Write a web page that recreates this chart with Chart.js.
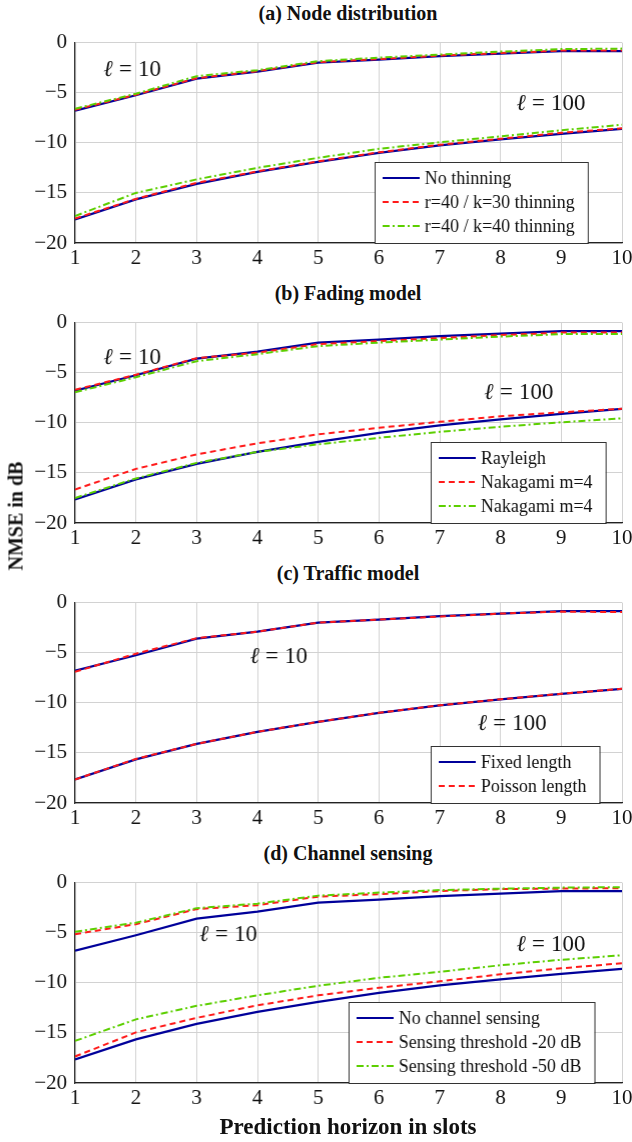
<!DOCTYPE html>
<html lang="en">
<head>
<meta charset="UTF-8">
<title>NMSE vs prediction horizon</title>
<script src="https://cdn.jsdelivr.net/npm/chart.js"></script>
<style>
    body { margin: 0; background: #fff; overflow: hidden; }
    #fig { position: relative; width: 632px; height: 1142px; overflow: hidden; font-family: "Liberation Serif", serif; color: #111; }
    .panel { position: absolute; left: 0; width: 634.5px; height: 256px; }
    .ttl { position: absolute; left: 75px; width: 546px; text-align: center; font-weight: bold; font-size: 20px; line-height: 22px; }
    #xlab { position: absolute; left: 75px; width: 546px; top: 1114px; text-align: center; font-weight: bold; font-size: 23px; }
    #ylab { position: absolute; left: 16px; top: 516px; transform: translate(-50%, -50%) rotate(-90deg); white-space: nowrap; font-weight: bold; font-size: 20px; }
</style>
</head>
<body>
<div id="fig">
    <div class="ttl" style="top:2px">(a) Node distribution</div>
    <div class="ttl" style="top:282px">(b) Fading model</div>
    <div class="ttl" style="top:562px">(c) Traffic model</div>
    <div class="ttl" style="top:842px">(d) Channel sensing</div>
    <div class="panel" style="top:22px"><canvas id="pa"></canvas></div>
    <div class="panel" style="top:302px"><canvas id="pb"></canvas></div>
    <div class="panel" style="top:582px"><canvas id="pc"></canvas></div>
    <div class="panel" style="top:862px"><canvas id="pd"></canvas></div>
    <div id="xlab">Prediction horizon in slots</div>
    <div id="ylab">NMSE in dB</div>
</div>

<script>
    // x axis: prediction horizon (slots)
    const horizon = [1, 2, 3, 4, 5, 6, 7, 8, 9, 10];

    // baseline (no thinning / Rayleigh / fixed length / no sensing), l=10 and l=100
    const base10 = [-6.8, -5.25, -3.6, -2.9, -2.0, -1.7, -1.35, -1.1, -0.85, -0.85];
    const base100 = [-17.65, -15.65, -14.1, -12.9, -11.9, -11.0, -10.25, -9.65, -9.1, -8.6];

    // (a) node distribution
    const thin30_10 = [-6.7, -5.2, -3.55, -2.85, -1.95, -1.65, -1.3, -1.05, -0.8, -0.8];
    const thin30_100 = [-17.55, -15.6, -14.0, -12.85, -11.85, -10.95, -10.2, -9.6, -9.0, -8.55];
    const thin40_10 = [-6.6, -5.1, -3.35, -2.75, -1.85, -1.5, -1.2, -0.9, -0.65, -0.6];
    const thin40_100 = [-17.3, -15.0, -13.65, -12.5, -11.5, -10.6, -9.95, -9.35, -8.75, -8.2];

    // (b) fading model
    const nakaA_10 = [-6.7, -5.2, -3.55, -3.0, -2.15, -1.85, -1.55, -1.25, -1.0, -1.0];
    const nakaA_100 = [-16.65, -14.6, -13.15, -12.05, -11.15, -10.5, -9.9, -9.35, -8.95, -8.6];
    const nakaB_10 = [-6.95, -5.45, -3.85, -3.15, -2.35, -2.0, -1.7, -1.4, -1.15, -1.15];
    const nakaB_100 = [-17.5, -15.55, -14.0, -12.9, -12.15, -11.5, -10.9, -10.4, -9.95, -9.55];

    // (c) traffic model
    const poisson10 = [-6.9, -5.1, -3.55, -2.9, -2.0, -1.7, -1.4, -1.1, -0.9, -0.95];
    const poisson100 = [-17.65, -15.6, -14.1, -12.9, -11.9, -11.0, -10.25, -9.65, -9.1, -8.6];

    // (d) channel sensing
    const sense20_10 = [-5.15, -4.15, -2.65, -2.25, -1.4, -1.15, -0.85, -0.65, -0.6, -0.55];
    const sense20_100 = [-17.35, -14.95, -13.5, -12.25, -11.25, -10.5, -9.85, -9.15, -8.55, -8.05];
    const sense50_10 = [-4.9, -4.0, -2.55, -2.1, -1.3, -1.0, -0.75, -0.6, -0.5, -0.45];
    const sense50_100 = [-15.8, -13.65, -12.3, -11.25, -10.3, -9.5, -8.9, -8.25, -7.7, -7.25];

    const BLUE = '#00009a', RED = '#ff1a1a', GREEN = '#5ccf00';
    const SERIF = '"Liberation Serif", serif';

    const styles = {
        solid: { color: BLUE, dash: [], width: 2.2, order: 3 },
        dashed: { color: RED, dash: [6, 4], width: 2, order: 2 },
        dashdot: { color: GREEN, dash: [7, 3, 2, 3], width: 2, order: 1 }
    };

    function pts(arr) {
        return arr.map((v, i) => ({ x: horizon[i], y: v }));
    }

    function series(name, kind, v10, v100) {
        const s = styles[kind];
        const mk = (arr, lbl) => ({
            data: pts(arr),
            legendText: lbl,
            borderColor: s.color,
            borderDash: s.dash,
            borderWidth: s.width,
            order: s.order,
            pointRadius: 0,
            tension: 0,
            fill: false
        });
        return [mk(v10, name), mk(v100, null)];
    }

    // draws the boxed legend and the l = 10 / l = 100 notes
    const panelDecor = {
        id: 'panelDecor',
        afterDraw(chart, args, opts) {
            const ctx = chart.ctx;
            const xs = chart.scales.x, ys = chart.scales.y;
            ctx.save();
            ctx.fillStyle = '#111';
            ctx.textBaseline = 'middle';
            ctx.textAlign = 'left';
            (opts.notes || []).forEach(n => {
                const px = xs.getPixelForValue(n.x), py = ys.getPixelForValue(n.y);
                ctx.font = 'italic 23px ' + SERIF;
                const w1 = ctx.measureText('ℓ').width;
                ctx.font = '23px ' + SERIF;
                const we = ctx.measureText('=').width;
                const wn = ctx.measureText(n.l).width;
                const gap = 6;
                let x = px - (w1 + gap + we + gap + wn) / 2;
                ctx.font = 'italic 23px ' + SERIF;
                ctx.fillText('ℓ', x, py);
                x += w1 + gap;
                ctx.font = '23px ' + SERIF;
                ctx.fillText('=', x, py);
                x += we + gap;
                ctx.fillText(n.l, x, py);
            });

            const items = chart.data.datasets.filter(d => d.legendText);
            const lg = opts.legend;
            ctx.font = '18px ' + SERIF;
            let tw = 0;
            items.forEach(d => { tw = Math.max(tw, ctx.measureText(d.legendText).width); });
            const w = 50 + tw + 13;
            const h = 24 * items.length + 9;
            const bottom = chart.chartArea.bottom;
            const top = bottom - h;
            ctx.fillStyle = '#fff';
            ctx.fillRect(lg.left, top, w, h);
            ctx.strokeStyle = '#333';
            ctx.lineWidth = 1;
            ctx.strokeRect(lg.left + 0.5, top + 0.5, w, h);
            items.forEach((d, k) => {
                const ry = top + 16 + 24 * k;
                ctx.beginPath();
                ctx.setLineDash(d.borderDash);
                ctx.strokeStyle = d.borderColor;
                ctx.lineWidth = d.borderWidth;
                ctx.moveTo(lg.left + 8, ry);
                ctx.lineTo(lg.left + 45, ry);
                ctx.stroke();
                ctx.setLineDash([]);
                ctx.fillStyle = '#111';
                ctx.fillText(d.legendText, lg.left + 50, ry + 1);
            });
            ctx.restore();
        }
    };

    function makePanel(id, datasets, notes, legendLeft) {
        return new Chart(document.getElementById(id), {
            type: 'line',
            data: { datasets: datasets },
            options: {
                responsive: true,
                maintainAspectRatio: false,
                animation: false,
                events: [],
                layout: { padding: { top: 15, right: 8.5, left: 0, bottom: 0 } },
                plugins: {
                    legend: { display: false },
                    tooltip: { enabled: false },
                    panelDecor: { notes: notes, legend: { left: legendLeft } }
                },
                scales: {
                    x: {
                        type: 'linear', min: 1, max: 10,
                        afterFit: s => { s.height = 35; },
                        grid: { color: '#d2d2d2', lineWidth: 1, drawTicks: false },
                        border: { color: '#222', width: 1.2 },
                        ticks: {
                            stepSize: 1, padding: 3, color: '#111',
                            font: { family: SERIF, size: 21 }
                        }
                    },
                    y: {
                        min: -20, max: 0,
                        afterFit: s => { s.width = 75; },
                        grid: { color: '#d2d2d2', lineWidth: 1, drawTicks: false },
                        border: { color: '#222', width: 1.2 },
                        ticks: {
                            stepSize: 5, padding: 8, color: '#111',
                            font: { family: SERIF, size: 21 },
                            callback: v => v < 0 ? '\u2212' + Math.abs(v) : '' + v
                        }
                    }
                }
            },
            plugins: [panelDecor]
        });
    }

    makePanel('pa', [
        ...series('No thinning', 'solid', base10, base100),
        ...series('r=40 / k=30 thinning', 'dashed', thin30_10, thin30_100),
        ...series('r=40 / k=40 thinning', 'dashdot', thin40_10, thin40_100)
    ], [{ x: 1.94, y: -2.7, l: '10' }, { x: 8.83, y: -6.1, l: '100' }], 374);

    makePanel('pb', [
        ...series('Rayleigh', 'solid', base10, base100),
        ...series('Nakagami m=4', 'dashed', nakaA_10, nakaA_100),
        ...series('Nakagami m=4', 'dashdot', nakaB_10, nakaB_100)
    ], [{ x: 1.94, y: -3.5, l: '10' }, { x: 8.3, y: -7.0, l: '100' }], 430);

    makePanel('pc', [
        ...series('Fixed length', 'solid', base10, base100),
        ...series('Poisson length', 'dashed', poisson10, poisson100)
    ], [{ x: 4.35, y: -5.4, l: '10' }, { x: 8.19, y: -12.1, l: '100' }], 430);

    makePanel('pd', [
        ...series('No channel sensing', 'solid', base10, base100),
        ...series('Sensing threshold -20 dB', 'dashed', sense20_10, sense20_100),
        ...series('Sensing threshold -50 dB', 'dashdot', sense50_10, sense50_100)
    ], [{ x: 3.52, y: -5.2, l: '10' }, { x: 8.83, y: -6.2, l: '100' }], 348);
</script>
</body>
</html>
